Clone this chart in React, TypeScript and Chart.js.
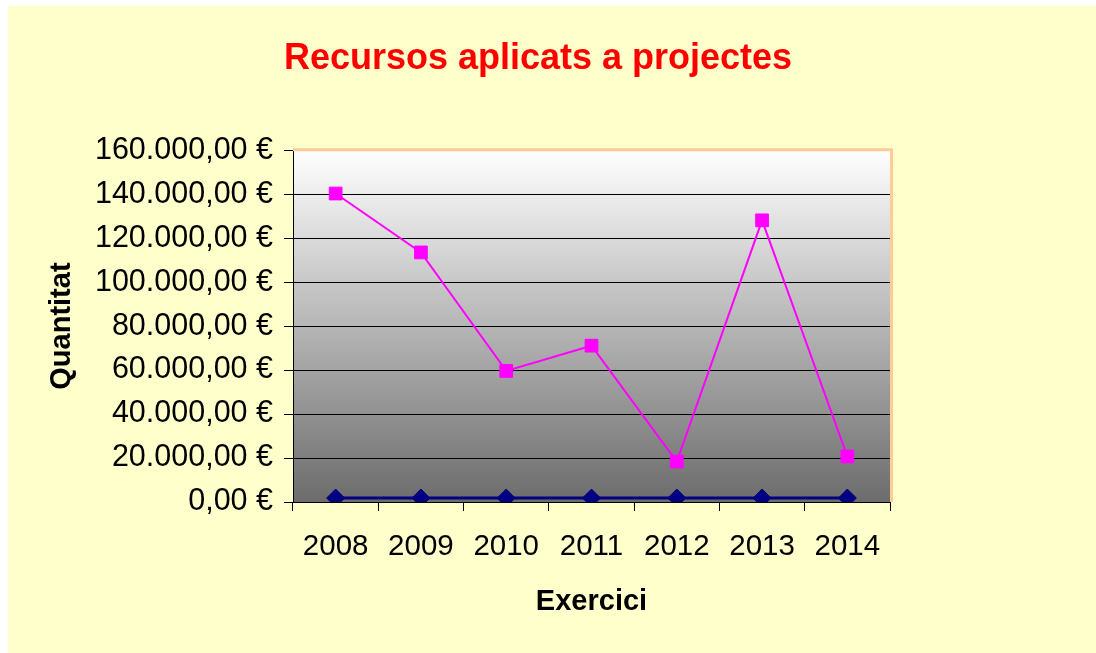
import React, { useEffect, useRef } from "react";
import { Chart, registerables } from "chart.js";

Chart.register(...registerables);

const years = ["2008", "2009", "2010", "2011", "2012", "2013", "2014"];
const recursosAplicats = [140300, 113500, 59600, 71100, 18400, 128100, 20700];
const segonaSerie = [1800, 1800, 1800, 1800, 1800, 1800, 1800];
const yTickValues = [0, 20000, 40000, 60000, 80000, 100000, 120000, 140000, 160000];

const FONT = "'Liberation Sans', Arial, sans-serif";

function formatEuro(v: number): string {
  const fixed = Math.abs(v).toFixed(2);
  const [intPart, dec] = fixed.split(".");
  const withDots = intPart.replace(/\B(?=(\d{3})+(?!\d))/g, ".");
  return (v < 0 ? "-" : "") + withDots + "," + dec + " €";
}

const plotAreaPlugin = {
  id: "plotArea",
  beforeDraw(chart: any) {
    const { ctx, chartArea } = chart;
    const { left, top, right, bottom } = chartArea;
    const g = ctx.createLinearGradient(0, top, 0, bottom);
    g.addColorStop(0, "#ffffff");
    g.addColorStop(1, "#6c6c6c");
    ctx.save();
    ctx.fillStyle = g;
    ctx.fillRect(left, top, right - left, bottom - top);
    ctx.restore();
  },
  beforeDatasetsDraw(chart: any) {
    const { ctx, chartArea } = chart;
    const { left, top, right, bottom } = chartArea;
    ctx.save();
    ctx.strokeStyle = "#FFCC99";
    ctx.lineWidth = 3;
    ctx.beginPath();
    ctx.moveTo(left, top - 0.5);
    ctx.lineTo(right + 1.5, top - 0.5);
    ctx.lineTo(right + 1.5, bottom);
    ctx.stroke();
    ctx.restore();
  },
};

export default function App() {
  const canvasRef = useRef<HTMLCanvasElement | null>(null);

  useEffect(() => {
    if (!canvasRef.current) return;
    const chart = new Chart(canvasRef.current, {
      type: "line",
      data: {
        labels: years,
        datasets: [
          {
            label: "Recursos aplicats",
            data: recursosAplicats,
            borderColor: "#FF00FF",
            backgroundColor: "#FF00FF",
            borderWidth: 2,
            pointStyle: "rect",
            pointRadius: 9,
            pointBorderWidth: 1,
            pointBackgroundColor: "#FF00FF",
            pointBorderColor: "#FF00FF",
            tension: 0,
          },
          {
            label: "Sèrie 2",
            data: segonaSerie,
            borderColor: "#000080",
            backgroundColor: "#000080",
            borderWidth: 3,
            pointStyle: "rectRot",
            pointRadius: 9,
            pointBorderWidth: 1,
            pointBackgroundColor: "#000080",
            pointBorderColor: "#000080",
            tension: 0,
          },
        ],
      },
      options: {
        responsive: false,
        animation: false,
        layout: { padding: 0 },
        plugins: {
          legend: { display: false },
          tooltip: { enabled: false },
          title: {
            display: true,
            text: "Recursos aplicats a projectes",
            color: "#FF0000",
            font: { family: FONT, size: 36, weight: "bold" },
            padding: { top: 31, bottom: 70 },
          },
        },
        scales: {
          x: {
            type: "category",
            offset: true,
            grid: {
              display: true,
              offset: true,
              drawOnChartArea: false,
              drawTicks: true,
              tickLength: 9,
              color: "#000",
              tickColor: "#000",
            },
            border: { display: true, color: "#000", width: 1 },
            ticks: {
              color: "#000",
              font: { family: FONT, size: 29.5 },
              padding: 18,
              maxRotation: 0,
            },
            title: {
              display: true,
              text: "Exercici",
              color: "#000",
              font: { family: FONT, size: 29, weight: "bold" },
              padding: { top: 0, bottom: 34 },
            },
            afterFit(scale: any) {
              scale.height = 151;
            },
          },
          y: {
            type: "linear",
            position: "left",
            min: 0,
            max: 160000,
            afterBuildTicks(scale: any) {
              scale.ticks = yTickValues.map((v) => ({ value: v }));
            },
            grid: {
              display: true,
              drawTicks: true,
              tickLength: 9,
              color: (c: any) =>
                c.tick && c.tick.value === 160000 ? "rgba(0,0,0,0)" : "#000",
              tickColor: "#000",
            },
            border: { display: true, color: "#000", width: 1 },
            ticks: {
              color: "#000",
              font: { family: FONT, size: 30.5 },
              padding: 11,
              callback: (v: any) => formatEuro(Number(v)),
            },
            title: {
              display: true,
              text: "Quantitat",
              color: "#000",
              font: { family: FONT, size: 29, weight: "bold" },
              padding: { top: 37, bottom: 0 },
            },
            afterFit(scale: any) {
              scale.width = 285;
            },
          },
          yR: {
            type: "linear",
            position: "right",
            display: true,
            grid: { display: false, drawTicks: false },
            border: { display: false },
            ticks: { display: false },
            afterFit(scale: any) {
              scale.width = 178;
            },
          },
        },
      },
      plugins: [plotAreaPlugin],
    });
    return () => chart.destroy();
  }, []);

  return (
    <div
      style={{
        position: "absolute",
        left: 8,
        top: 6,
        width: 1088,
        height: 647,
        background: "#FFFFCC",
        overflow: "hidden",
      }}
    >
      <canvas
        ref={canvasRef}
        width={1060}
        height={647}
        style={{ display: "block", width: 1060, height: 647 }}
      />
    </div>
  );
}
